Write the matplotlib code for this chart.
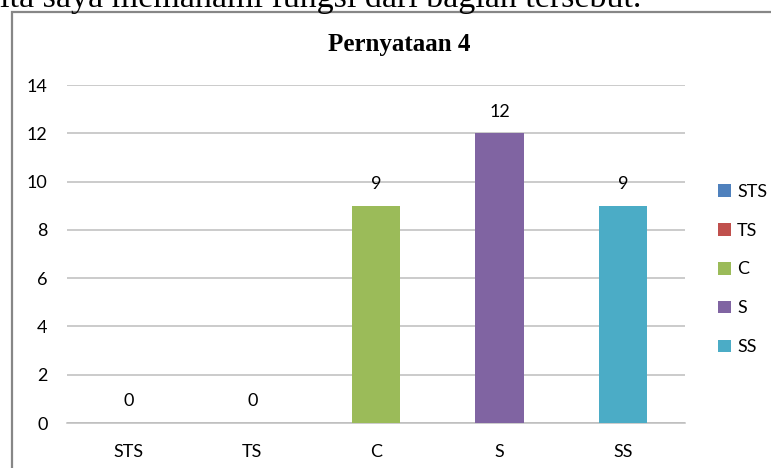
import matplotlib
matplotlib.use("Agg")
import matplotlib.pyplot as plt
from matplotlib.patches import Rectangle

categories = ["STS", "TS", "C", "S", "SS"]
values = [0, 0, 9, 12, 9]
colors = ["#4F81BD", "#C0504D", "#9BBB59", "#8064A2", "#4BACC6"]
yticks = [0, 2, 4, 6, 8, 10, 12, 14]
title = "Pernyataan 4"
top_text = "ita saya memahami fungsi dari bagian tersebut."

W, H = 771, 468
fig = plt.figure(figsize=(W / 100, H / 100), dpi=100)

def fx(px):
    return px / W

def fy(py):
    return 1 - py / H

# chart frame
fig.patches.append(Rectangle((fx(12), fy(H + 20)), fx(W + 20), (H + 8) / H,
                             transform=fig.transFigure, fill=False,
                             edgecolor="#878787", lw=1.6))

fig.text(fx(0), fy(7), top_text, fontsize=24.5, family="Liberation Serif",
         va="baseline", ha="left", color="black")

ax = fig.add_axes([fx(67), fy(423), fx(685 - 67), (423 - 85) / H])
x = list(range(len(categories)))
bars = ax.bar(x, values, width=0.39, color=colors, zorder=3)
ax.set_xlim(-0.5, len(categories) - 0.5)
ax.set_ylim(0, 14)
ax.set_yticks(yticks)
ax.set_xticks(x)
ax.set_xticklabels(categories)
ax.grid(axis="y", color="#bdbdbd", lw=1.1, zorder=0)
for s in ["left", "right", "top"]:
    ax.spines[s].set_visible(False)
ax.spines["bottom"].set_color("#bdbdbd")
ax.spines["bottom"].set_linewidth(1.1)
ax.tick_params(axis="both", length=0, labelsize=13)
ax.tick_params(axis="x", pad=15)
ax.tick_params(axis="y", pad=14)
for lab in ax.get_xticklabels() + ax.get_yticklabels():
    lab.set_family("Lato")

for xi, v in zip(x, values):
    ax.annotate(str(v), (xi, v), xytext=(0, 15.5), textcoords="offset points",
                ha="center", va="center", fontsize=13, family="Lato")

fig.text(fx(399), fy(44), title, fontsize=18, fontweight="bold",
         family="Liberation Serif", ha="center", va="center")

leg = fig.legend(bars, categories, loc="center left",
                 bbox_to_anchor=(fx(718), fy(269.5)), frameon=False,
                 prop={"family": "Lato", "size": 13}, borderpad=0,
                 borderaxespad=0,
                 handlelength=0.7, handleheight=0.7, handletextpad=0.35,
                 labelspacing=1.27)

fig.savefig("out.png", dpi=100)
